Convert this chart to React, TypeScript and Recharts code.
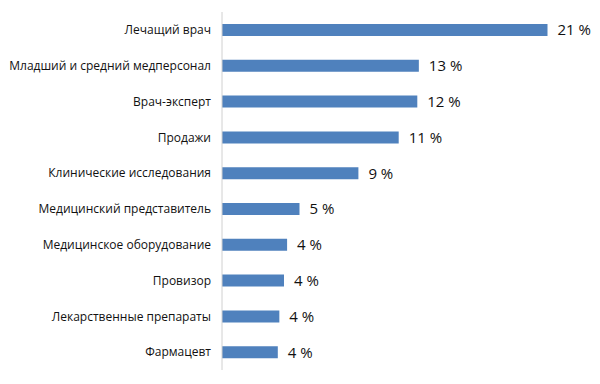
import React from 'react';
import { BarChart, Bar, XAxis, YAxis, LabelList } from 'recharts';

// ─── Data ─────────────────────────────────────────────────────────────────────

const categories = [
  'Лечащий врач',
  'Младший и средний медперсонал',
  'Врач-эксперт',
  'Продажи',
  'Клинические исследования',
  'Медицинский представитель',
  'Медицинское оборудование',
  'Провизор',
  'Лекарственные препараты',
  'Фармацевт',
];

const shares = [21, 12.7, 12.6, 11.4, 8.8, 5.0, 4.2, 4.0, 3.7, 3.6];

const shareLabels = ['21 %', '13 %', '12 %', '11 %', '9 %', '5 %', '4 %', '4 %', '4 %', '4 %'];

const chartData = categories.map((name, i) => ({
  name,
  value: shares[i],
  label: shareLabels[i],
}));

const FONT = 'Open Sans';
const textColor = '#111111';

// ─── Category tick (single line, no wrapping) ─────────────────────────────────

interface TickProps {
  x?: number;
  y?: number;
  payload?: { value: string };
}

const CategoryTick: React.FC<TickProps> = ({ x = 0, y = 0, payload }) => (
  <text
    x={x}
    y={y}
    dy="0.35em"
    textAnchor="end"
    fill={textColor}
    fontSize={12}
    fontFamily={FONT}
  >
    {payload?.value}
  </text>
);

// ─── Chart ────────────────────────────────────────────────────────────────────

const App: React.FC = () => {
  const barColor = '#4F81BD';
  const axisColor = '#D0D0D0';

  return (
    <div style={{ position: 'absolute', left: 0, top: 0, width: 600, height: 384, background: '#fff' }}>
      <BarChart
        width={600}
        height={384}
        data={chartData}
        layout="vertical"
        margin={{ top: 12, right: 6, bottom: 14, left: 0 }}
        barCategoryGap={0}
      >
        <XAxis type="number" domain={[0, 24]} hide />
        <YAxis
          type="category"
          dataKey="name"
          width={222}
          tickSize={0}
          tickMargin={11}
          tickLine={false}
          axisLine={{ stroke: axisColor }}
          interval={0}
          tick={<CategoryTick />}
        />
        <Bar dataKey="value" fill={barColor} barSize={12} isAnimationActive={false}>
          <LabelList
            dataKey="label"
            position="right"
            offset={10}
            fill={textColor}
            fontSize={15}
            fontFamily={FONT}
          />
        </Bar>
      </BarChart>
    </div>
  );
};

export default App;
